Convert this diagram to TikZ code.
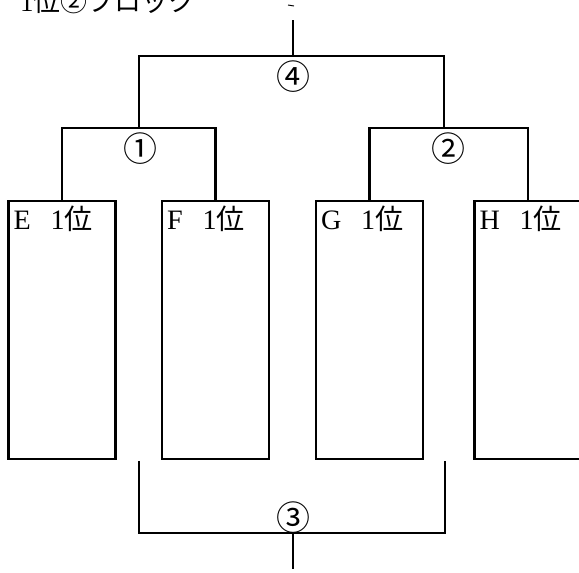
\documentclass[tikz,border=0pt]{standalone}
\usepackage{fontspec}
\setmainfont{Liberation Serif}
\newfontfamily\jp{Noto Sans CJK JP}

\begin{document}
\begin{tikzpicture}[x=0.03cm, y=-0.03cm,
        line/.style={line width=2pt},
        team/.style={draw, line width=2pt, minimum width=3.2cm, minimum height=7.74cm, inner sep=0pt},
        rank/.style={anchor=north west, inner sep=0pt, font=\fontsize{24}{28}\selectfont},
        game/.style={inner sep=0pt, font=\fontsize{29}{32}\selectfont\jp}]
        \useasboundingbox (0,0) rectangle (579,573);

        % Title (cut off at the top)
        \node[anchor=base west, inner sep=0pt, font=\fontsize{23}{27}\selectfont] (title) at (20,12) {1{\jp 位②ブロック}};
        \draw[line width=0.8pt] (288,5) -- (294,6);

        % Teams
        \node[team] (E) at (62,330) {};
        \node[team] (F) at (215.5,330) {};
        \node[team] (G) at (369.5,330) {};
        \node[team] (H) at (528,330) {};
        \node[rank] (labE) at ([shift={(6,6)}]E.north west) {E\hspace{0.7em}1{\jp 位}};
        \node[rank] (labF) at ([shift={(6,6)}]F.north west) {F\hspace{0.7em}1{\jp 位}};
        \node[rank] (labG) at ([shift={(6,6)}]G.north west) {G\hspace{0.7em}1{\jp 位}};
        \node[rank] (labH) at ([shift={(6,6)}]H.north west) {H\hspace{0.7em}1{\jp 位}};

        % Brackets
        \coordinate (r1) at (139,128);
        \coordinate (r2) at (444,128);
        \coordinate (r4) at (293,56);
        \coordinate (top) at (293,20);
        \draw[line] (E.north) |- (r1) -| (F.north);
        \draw[line] (G.north) |- (r2) -| (H.north);
        \draw[line] (r1) |- (r4) -| (r2);
        \draw[line] (r4) -- (top);

        % Third place
        \coordinate (a3) at (139,461);
        \coordinate (b3) at (445,461);
        \coordinate (r3) at (293,533);
        \coordinate (bot) at (293,569);
        \draw[line] (a3) |- (r3) -| (b3);
        \draw[line] (r3) -- (bot);

        % Game numbers
        \node[game] (g1) at (140,149) {①};
        \node[game] (g2) at (448,149) {②};
        \node[game] (g4) at (293,77) {④};
        \node[game] (g3) at (293,518) {③};
    \end{tikzpicture}
\end{document}
